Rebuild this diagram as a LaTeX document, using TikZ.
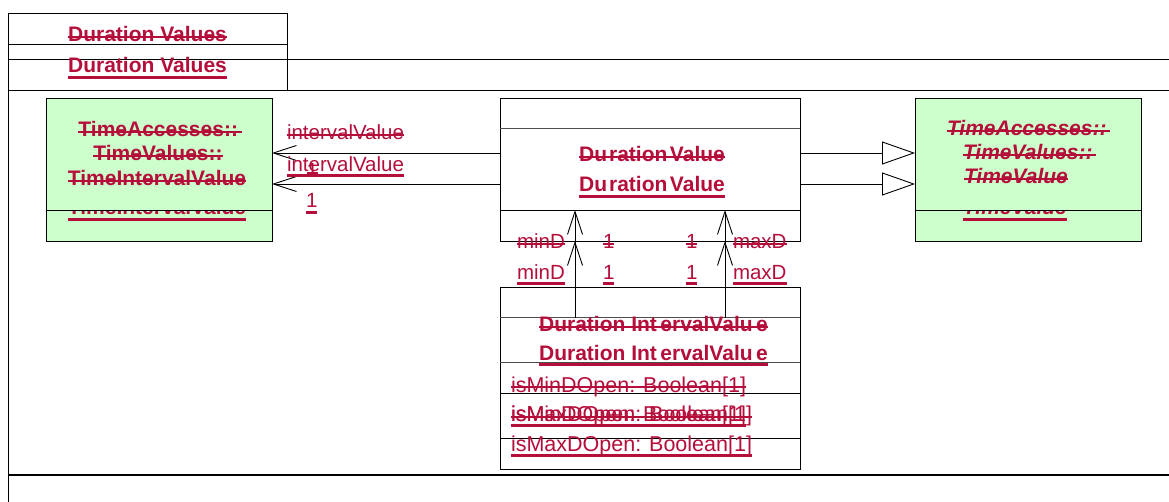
\documentclass[tikz,border=0pt]{standalone}
\usepackage{fontspec}
\setmainfont{Liberation Sans}
\usetikzlibrary{arrows.meta}
\definecolor{txtred}{RGB}{181,14,58}
\definecolor{boxgreen}{RGB}{204,255,204}
\tikzset{
  lbl/.style={inner sep=0pt, outer sep=0pt, text=txtred, anchor=base, font=\fontsize{20.5}{24}\selectfont},
  boldtxt/.style={font=\fontsize{21}{24}\selectfont\bfseries},
  itltxt/.style={font=\fontsize{21}{24}\selectfont\bfseries\itshape},
  attrtxt/.style={font=\fontsize{21.5}{25}\selectfont},
  strk/.style={draw=txtred, line width=1.8pt},
  undl/.style={draw=txtred, line width=3pt},
  ln/.style={draw=black, line width=0.9pt},
  greyln/.style={draw=black!70, line width=1pt},
  umlbox/.style={draw=black, line width=0.9pt, inner sep=0pt, outer sep=0pt},
  assoc/.style={ln, -{Straight Barb[length=23pt, width=15pt, line width=0.9pt]}},
  gen/.style={ln, -{Triangle[open, length=33pt, width=23pt, line width=0.9pt, fill=white]}},
}
\newcommand\StrTxt[4]{\node[lbl,#3] (#1) at (#2) {#4};
  \draw[strk] ([yshift=4.8pt]#1.base west) -- ([yshift=4.8pt]#1.base east);}
\newcommand\UndTxt[4]{\node[lbl,#3] (#1) at (#2) {#4};
  \draw[undl] ([yshift=-4.3pt]#1.base west) -- ([yshift=-4.3pt]#1.base east);}
\begin{document}
\begin{tikzpicture}[x=1pt,y=-1pt]
\fill[white] (0,0) rectangle (1169,502);
\useasboundingbox (0,0) rectangle (1169,502);
% package frame
\draw[ln] (8,502) -- (8,13) -- (287,13) -- (287,90);
\draw[ln] (8,44) -- (287,44);
\draw[ln] (8,59) -- (1169,59);
\draw[ln] (8,90) -- (1169,90);
\draw[ln, line width=1.8pt] (8,475) -- (1169,475);
\StrTxt{pk1}{147.5,42}{boldtxt}{Duration Values}
\UndTxt{pk2}{147.5,73}{boldtxt}{Duration Values}
% left green class
\node[umlbox, fill=boxgreen, minimum width=226pt, minimum height=143pt] (tiv) at (159,169.5) {};
\UndTxt{tiv4}{157,215}{boldtxt}{TimeIntervalValue}
\filldraw[fill=boxgreen, draw=black, line width=0.9pt] (tiv.north west) rectangle ([yshift=31pt]tiv.south east);
\StrTxt{tiv1}{160,136.5}{boldtxt}{TimeAccesses::\,}
\StrTxt{tiv2}{158,160.5}{boldtxt}{TimeValues::}
\StrTxt{tiv3}{157,185.5}{boldtxt}{TimeIntervalValue}
% right green class
\node[umlbox, fill=boxgreen, minimum width=226pt, minimum height=143pt] (tv) at (1028,169.5) {};
\UndTxt{tv4}{963,215}{itltxt,anchor=base west}{TimeValue}
\filldraw[fill=boxgreen, draw=black, line width=0.9pt] (tv.north west) rectangle ([yshift=31pt]tv.south east);
\StrTxt{tv1}{947,135.5}{itltxt,anchor=base west}{TimeAccesses::\,}
\StrTxt{tv2}{963,160}{itltxt,anchor=base west}{TimeValues::\,}
\StrTxt{tv3}{964,184}{itltxt,anchor=base west}{TimeValue}
% DurationValue
\node[umlbox, fill=white, minimum width=300pt, minimum height=143pt] (dv) at (650,169.5) {};
\draw[greyln] ([yshift=-31pt]dv.north west) -- ([yshift=-31pt]dv.north east);
\draw[ln] ([yshift=31pt]dv.south west) -- ([yshift=31pt]dv.south east);
\StrTxt{dv1}{652,161.5}{boldtxt}{Du\kern2pt ration\kern2.5pt Value}
\UndTxt{dv2}{652,192}{boldtxt}{Du\kern2pt ration\kern2.5pt Value}
% DurationIntervalValue
\node[umlbox, fill=white, minimum width=300pt, minimum height=182pt] (div) at (650,378) {};
\draw[greyln] ([yshift=-31pt]div.north west) -- ([yshift=-31pt]div.north east);
\draw[greyln] ([yshift=-75pt]div.north west) -- ([yshift=-75pt]div.north east);
\draw[ln] ([yshift=-106pt]div.north west) -- ([yshift=-106pt]div.north east);
\draw[ln] ([yshift=31pt]div.south west) -- ([yshift=31pt]div.south east);
\StrTxt{div1}{653.5,331.5}{boldtxt}{Duration Int\kern3.5pt ervalValu\kern3.5pt e}
\UndTxt{div2}{653.5,360}{boldtxt}{Duration Int\kern3.5pt ervalValu\kern3.5pt e}
\StrTxt{at1}{511,392}{attrtxt,anchor=base west}{isMinDOpen: Boolean[1]}
\StrTxt{at2}{511,421.5}{attrtxt,anchor=base west}{isMaxDOpen: Boolean[1]}
\UndTxt{at3}{511,421.5}{attrtxt,anchor=base west}{isMinDOpen: Boolean[1]}
\UndTxt{at4}{511,451}{attrtxt,anchor=base west}{isMaxDOpen: Boolean[1]}
% associations to TimeIntervalValue
\draw[assoc] ([yshift=16.5pt]dv.west) -- ([yshift=16.5pt]tiv.east);
\draw[assoc] ([yshift=-14.5pt]dv.west) -- ([yshift=-14.5pt]tiv.east);
\StrTxt{iv1}{287,140}{anchor=base west}{intervalValue}
\UndTxt{iv2}{287,171.5}{anchor=base west}{intervalValue}
\StrTxt{m1}{306.5,178}{anchor=base west}{1}
\UndTxt{m2}{306,208}{anchor=base west}{1}
% generalizations to TimeValue
\draw[gen] ([yshift=16.5pt]dv.east) -- ([yshift=16.5pt]tv.west);
\draw[gen] ([yshift=-14.5pt]dv.east) -- ([yshift=-14.5pt]tv.west);
% minD / maxD associations
\draw[assoc] ([xshift=-75pt,yshift=-31pt]div.north) -- ([xshift=-75pt,yshift=31pt]dv.south);
\draw[assoc] ([xshift=-75pt]div.north) -- ([xshift=-75pt]dv.south);
\draw[assoc] ([xshift=75pt,yshift=-31pt]div.north) -- ([xshift=75pt,yshift=31pt]dv.south);
\draw[assoc] ([xshift=75pt]div.north) -- ([xshift=75pt]dv.south);
\StrTxt{mn1}{517,248.5}{anchor=base west}{minD}
\UndTxt{mn2}{517,279.5}{anchor=base west}{minD}
\StrTxt{c1}{603,248.5}{anchor=base west}{1}
\UndTxt{c2}{603,279.5}{anchor=base west}{1}
\StrTxt{c3}{686,248.5}{anchor=base west}{1}
\UndTxt{c4}{686,279.5}{anchor=base west}{1}
\StrTxt{mx1}{733,248.5}{anchor=base west}{maxD}
\UndTxt{mx2}{733,279.5}{anchor=base west}{maxD}
\end{tikzpicture}
\end{document}
